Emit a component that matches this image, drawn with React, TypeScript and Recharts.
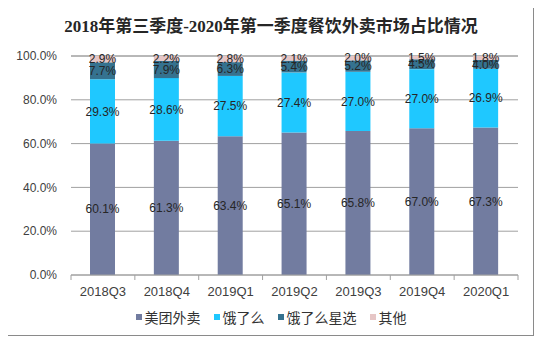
import React from "react";
import { BarChart, Bar, CartesianGrid, LabelList, XAxis, YAxis } from "recharts";

const quarters = ["2018Q3", "2018Q4", "2019Q1", "2019Q2", "2019Q3", "2019Q4", "2020Q1"];
const meituan = [60.1, 61.3, 63.4, 65.1, 65.8, 67.0, 67.3];
const eleme = [29.3, 28.6, 27.5, 27.4, 27.0, 27.0, 26.9];
const xingxuan = [7.7, 7.9, 6.3, 5.4, 5.2, 4.5, 4.0];
const others = [2.9, 2.2, 2.8, 2.1, 2.0, 1.5, 1.8];
const yTicks = [0, 20, 40, 60, 80, 100];

const series = [
  { key: "meituan", name: "美团外卖", color: "#727ca0" },
  { key: "eleme", name: "饿了么", color: "#1fc8ff" },
  { key: "xingxuan", name: "饿了么星选", color: "#35728f" },
  { key: "others", name: "其他", color: "#e6c6c6" },
];

const data = quarters.map((q, i) => ({
  quarter: q,
  meituan: meituan[i],
  eleme: eleme[i],
  xingxuan: xingxuan[i],
  others: others[i],
}));

const W = 542;
const H = 345;
const plotLeft = 71;
const plotRight = 518;
const step = (plotRight - plotLeft) / quarters.length;
const latin = "'Liberation Sans', Arial, sans-serif";
const cjk = "'Noto Sans CJK SC', sans-serif";
const gray = "#a0a0a0";

// tick with the little marks between categories, like Excel does
const QuarterTick = (props: any) => {
  const { x, y, payload } = props;
  const last = payload.value === quarters[quarters.length - 1];
  return (
    <g>
      <line x1={x - step / 2} x2={x - step / 2} y1={y} y2={y + 5} stroke={gray} />
      {last && <line x1={x + step / 2} x2={x + step / 2} y1={y} y2={y + 5} stroke={gray} />}
      <text
        x={x}
        y={y + 16}
        textAnchor="middle"
        dominantBaseline="central"
        fontSize={13}
        fontFamily={latin}
        fill="#404040"
      >
        {payload.value}
      </text>
    </g>
  );
};

const pct = (v: any) => Number(v).toFixed(1) + "%";

export default function App() {
  return (
    <div style={{ position: "relative", width: W, height: H, margin: -8, background: "#fff" }}>
      <div
        style={{
          position: "absolute",
          left: 5,
          top: 5,
          width: 527,
          height: 329,
          border: "1px solid #8a8a8a",
        }}
      />
      <div
        style={{
          position: "absolute",
          top: 15,
          left: 0,
          width: W,
          textAlign: "center",
          fontSize: 17,
          fontWeight: "bold",
          fontFamily: "'Liberation Serif', 'Noto Sans CJK SC', serif",
          color: "#262626",
          lineHeight: "24px",
        }}
      >
        2018年第三季度-2020年第一季度餐饮外卖市场占比情况
      </div>
      <div style={{ position: "absolute", left: 0, top: 0 }}>
        <BarChart
          width={W}
          height={H}
          data={data}
          margin={{ top: 56, right: W - plotRight, left: 0, bottom: 40 }}
          barSize={25}
        >
          <CartesianGrid vertical={false} stroke={gray} />
          <XAxis
            dataKey="quarter"
            height={30}
            stroke={gray}
            tickLine={false}
            tickSize={0}
            tickMargin={0}
            tick={<QuarterTick />}
            interval={0}
          />
          <YAxis
            width={plotLeft}
            domain={[0, 100]}
            ticks={yTicks}
            axisLine={false}
            tickLine={false}
            tickSize={0}
            tickMargin={14}
            tickFormatter={pct}
            tick={{ fontSize: 12, fontFamily: latin, fill: "#404040" }}
          />
          {series.map((s) => (
            <Bar
              key={s.key}
              dataKey={s.key}
              name={s.name}
              stackId="a"
              fill={s.color}
              isAnimationActive={false}
            >
              <LabelList
                dataKey={s.key}
                position="center"
                formatter={pct}
                style={{ fontSize: 12, fontFamily: latin, fill: "#262626" }}
              />
            </Bar>
          ))}
        </BarChart>
      </div>
      <div
        style={{
          position: "absolute",
          top: 307,
          left: 0,
          width: W,
          display: "flex",
          justifyContent: "center",
          gap: 13,
          fontSize: 14,
          fontFamily: cjk,
          color: "#333",
          lineHeight: "20px",
        }}
      >
        {series.map((s) => (
          <div key={s.key} style={{ display: "flex", alignItems: "center" }}>
            <span style={{ width: 6, height: 6, background: s.color, marginRight: 3 }} />
            <span>{s.name}</span>
          </div>
        ))}
      </div>
    </div>
  );
}
